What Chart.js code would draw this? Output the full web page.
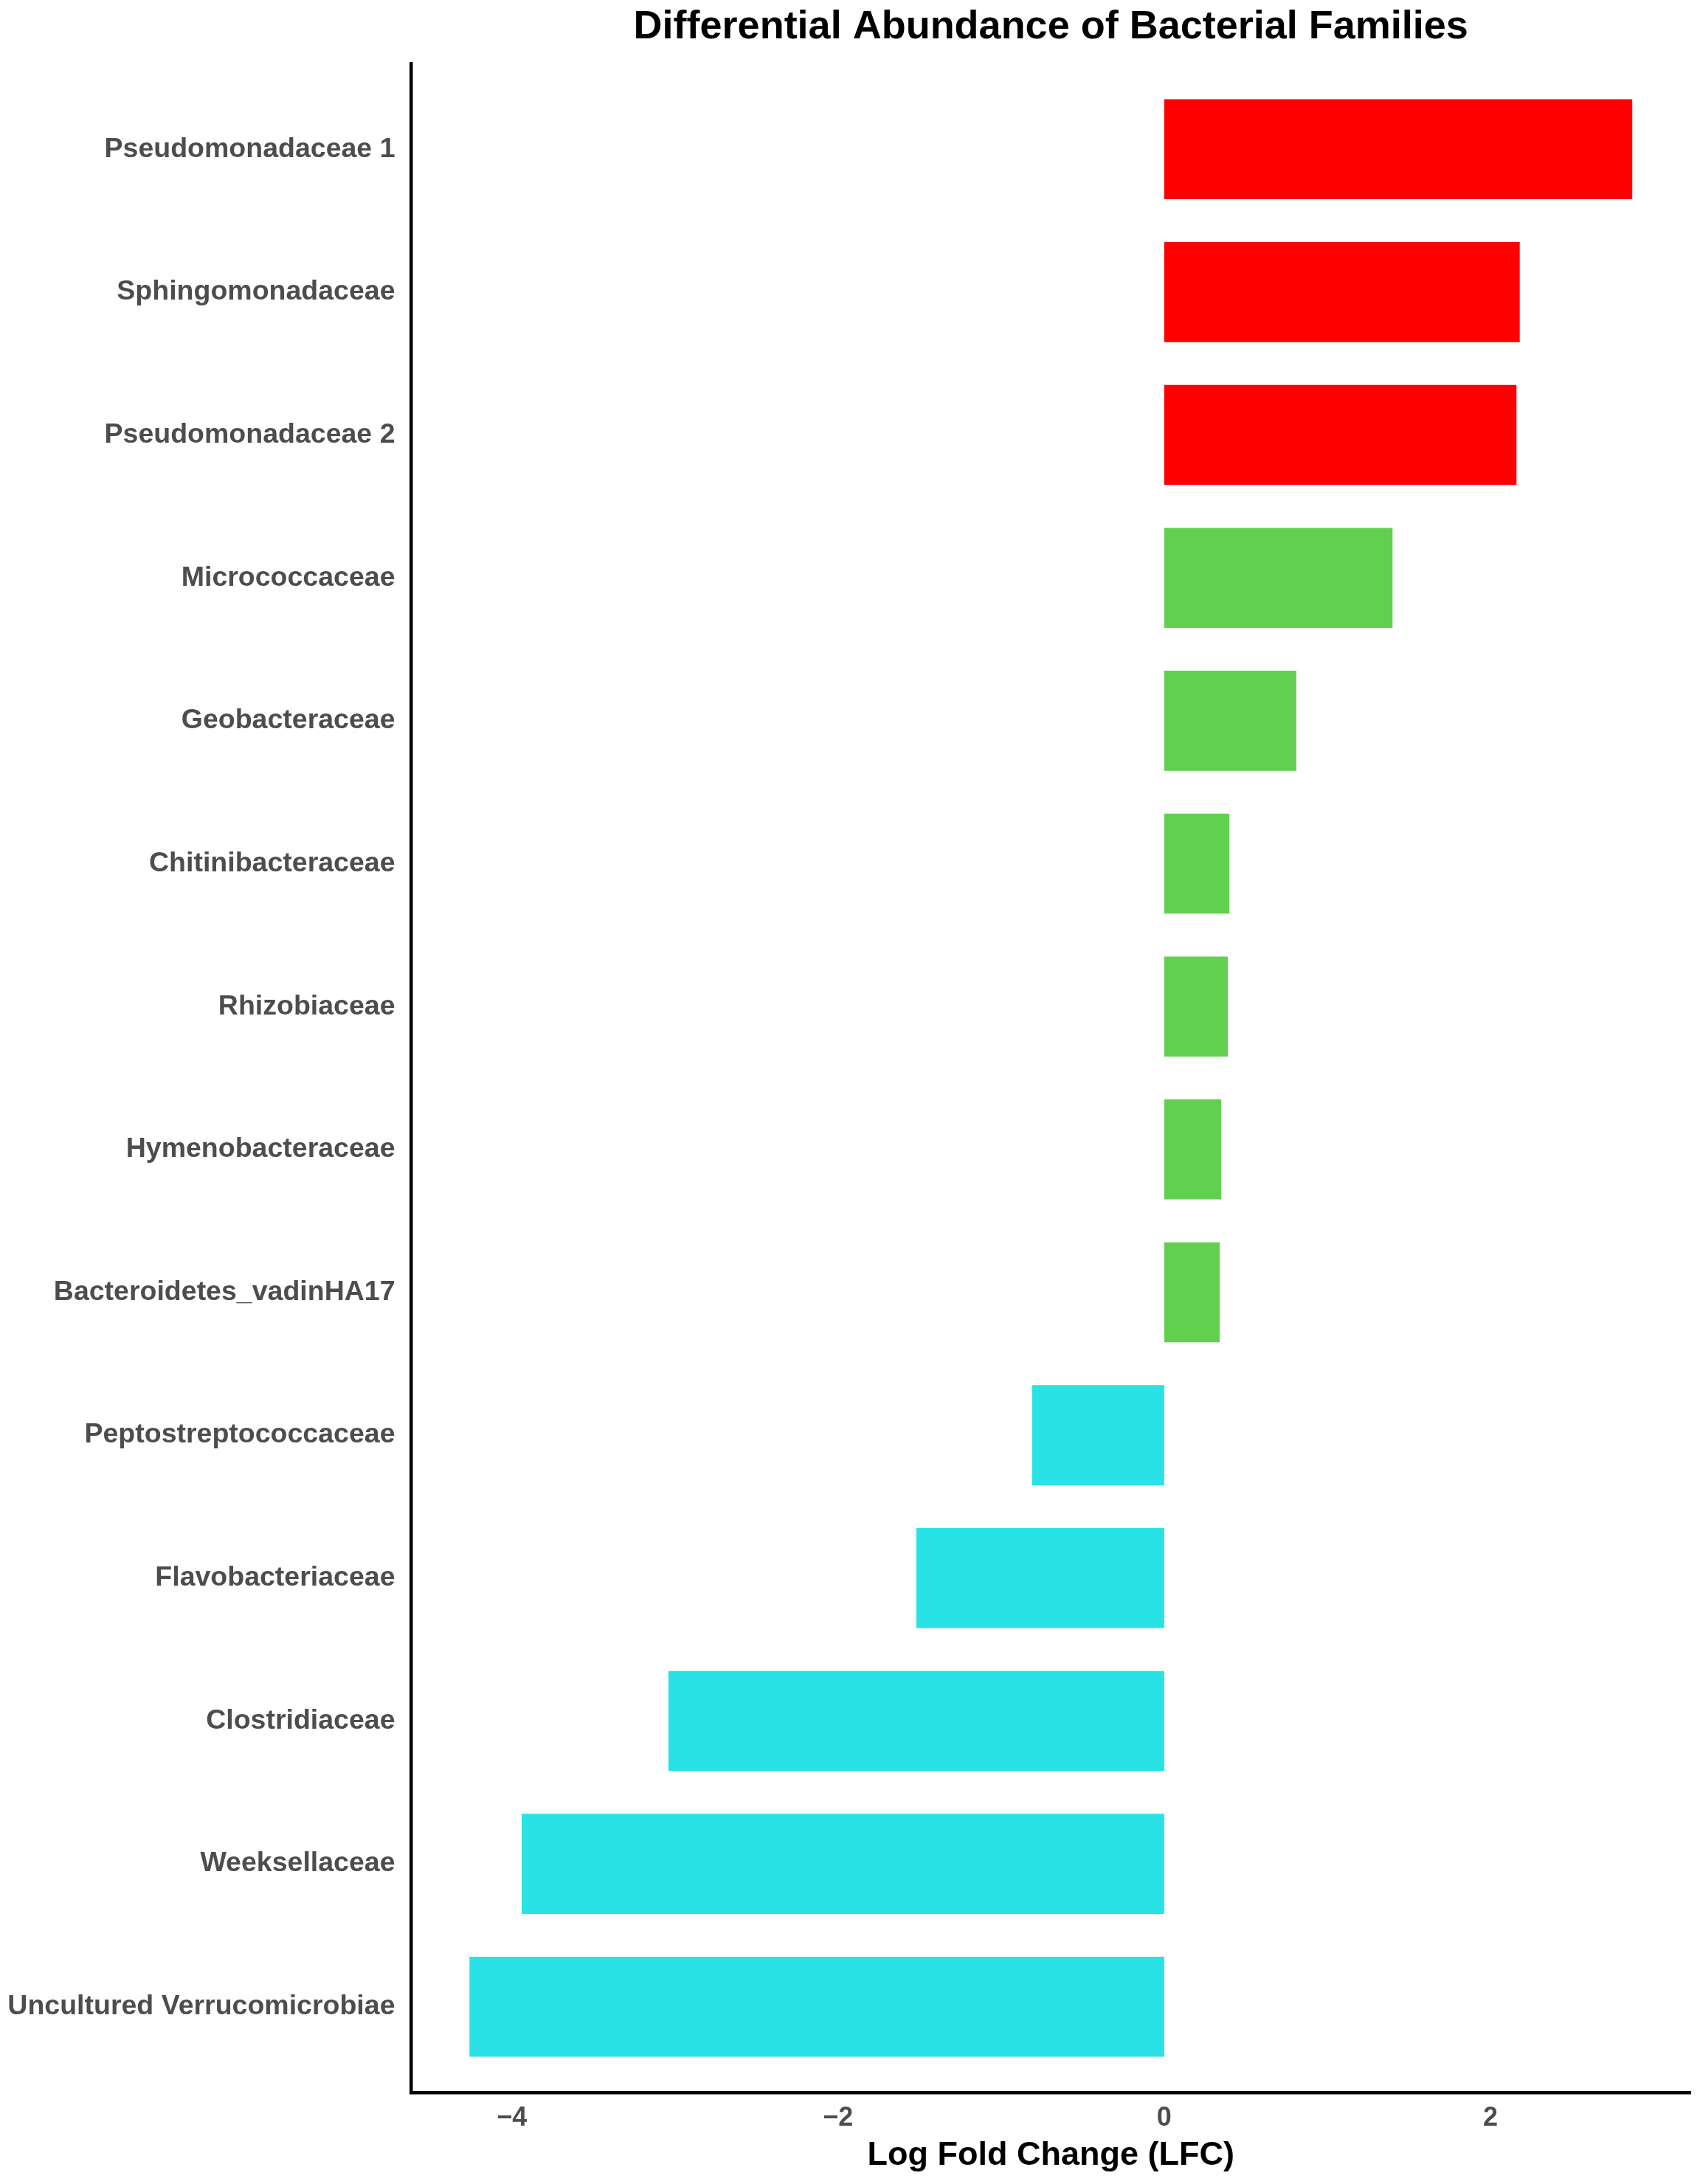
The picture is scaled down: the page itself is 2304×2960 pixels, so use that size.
<!DOCTYPE html>
<html>
<head>
<meta charset="utf-8">
<script src="https://cdn.jsdelivr.net/npm/chart.js@4.4.1/dist/chart.umd.min.js"></script>
<style>
  html, body { margin: 0; padding: 0; background: #ffffff; }
  #wrap { width: 2304px; height: 2960px; position: relative; }
</style>
</head>
<body>
<div id="wrap"><canvas id="c"></canvas></div>
<script>
// ---- data ----
const families = [
  "Pseudomonadaceae 1",
  "Sphingomonadaceae",
  "Pseudomonadaceae 2",
  "Micrococcaceae",
  "Geobacteraceae",
  "Chitinibacteraceae",
  "Rhizobiaceae",
  "Hymenobacteraceae",
  "Bacteroidetes_vadinHA17",
  "Peptostreptococcaceae",
  "Flavobacteriaceae",
  "Clostridiaceae",
  "Weeksellaceae",
  "Uncultured Verrucomicrobiae"
];
const lfc = [2.87, 2.18, 2.16, 1.40, 0.81, 0.40, 0.39, 0.35, 0.34, -0.81, -1.52, -3.04, -3.94, -4.26];
const groups = ["strong", "strong", "strong", "up", "up", "up", "up", "up", "up", "down", "down", "down", "down", "down"];
const xTicks = [-4, -2, 0, 2];
const chartTitle = "Differential Abundance of Bacterial Families";
const xTitle = "Log Fold Change (LFC)";

// ---- styles ----
const groupColor = { strong: "#FF0000", up: "#61D04F", down: "#28E2E5" };
const FONT = "'Liberation Sans', Arial, Helvetica, sans-serif";

const dmin = Math.min(0, ...lfc), dmax = Math.max(0, ...lfc);
const span = dmax - dmin;

const titlePlugin = {
  id: 'centeredTitle',
  afterDraw(chart) {
    const ctx = chart.ctx, a = chart.chartArea;
    ctx.save();
    ctx.font = "bold 54px " + FONT;
    ctx.fillStyle = "#000000";
    ctx.textAlign = "center";
    ctx.textBaseline = "alphabetic";
    ctx.fillText(chartTitle, (a.left + a.right) / 2, 52);
    ctx.restore();
  }
};

new Chart(document.getElementById('c'), {
  type: 'bar',
  data: {
    datasets: [{
      data: lfc.map((v, i) => ({ x: v, y: i })),
      backgroundColor: groups.map(g => groupColor[g]),
      borderWidth: 0,
      barPercentage: 0.7,
      categoryPercentage: 1.0
    }]
  },
  options: {
    indexAxis: 'y',
    responsive: true,
    maintainAspectRatio: false,
    devicePixelRatio: 1,
    animation: false,
    layout: { padding: { top: 86, right: 13, left: 0, bottom: 0 } },
    plugins: { legend: { display: false }, tooltip: { enabled: false }, title: { display: false } },
    scales: {
      x: {
        type: 'linear',
        min: dmin - 0.05 * span,
        max: dmax + 0.05 * span,
        offset: false,
        grid: { display: false, drawTicks: false },
        border: { display: true, color: '#000000', width: 4.5 },
        afterBuildTicks: s => { s.ticks = xTicks.map(v => ({ value: v })); },
        afterFit: s => { s.height = 124; },
        ticks: {
          color: '#4D4D4D',
          padding: 17,
          font: { family: FONT, size: 36, weight: 'bold', lineHeight: 1 },
          callback: v => (v < 0 ? '\u2212' + Math.abs(v) : String(v))
        },
        title: {
          display: true,
          text: xTitle,
          color: '#000000',
          font: { family: FONT, size: 45, weight: 'bold', lineHeight: 1 },
          padding: { top: 0, bottom: 16 }
        }
      },
      y: {
        type: 'linear',
        reverse: true,
        offset: false,
        min: -0.6,
        max: families.length - 1 + 0.6,
        grid: { display: false, drawTicks: false, offset: false },
        border: { display: true, color: '#000000', width: 4.5 },
        afterBuildTicks: s => { s.ticks = families.map((f, i) => ({ value: i })); },
        afterFit: s => { s.width = 557.5; },
        ticks: {
          color: '#4D4D4D',
          padding: 22,
          autoSkip: false,
          font: { family: FONT, size: 37.5, weight: 'bold', lineHeight: 1 },
          callback: v => families[v]
        }
      }
    }
  },
  plugins: [titlePlugin]
});
</script>
</body>
</html>
